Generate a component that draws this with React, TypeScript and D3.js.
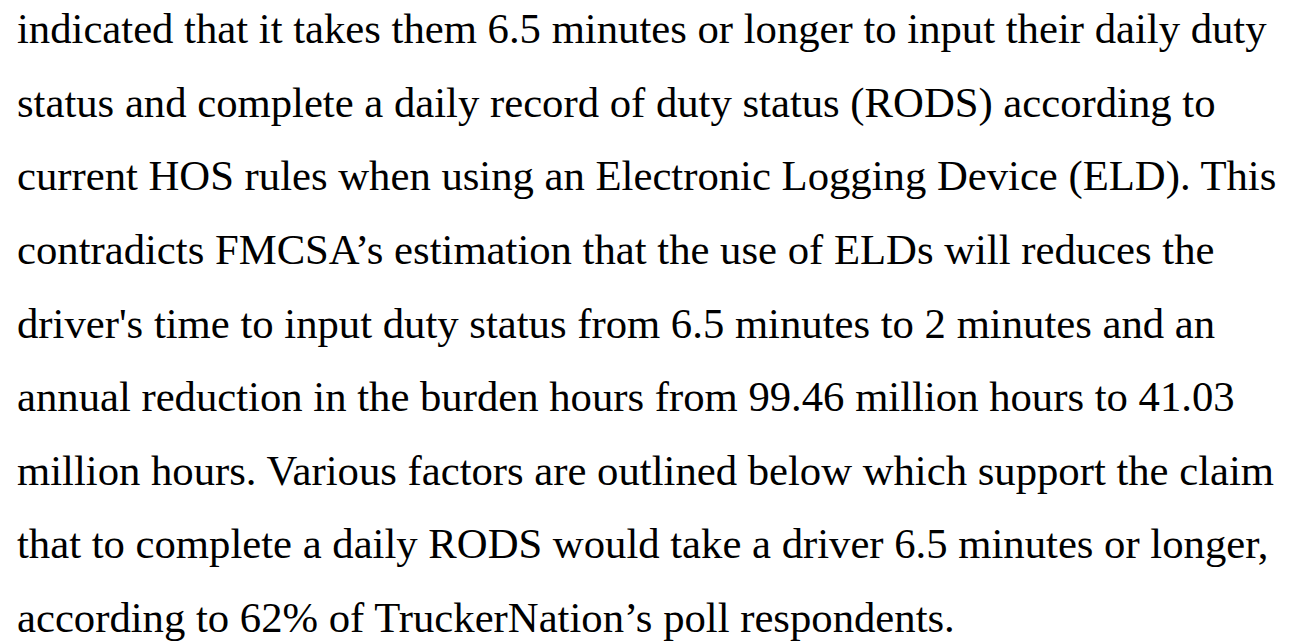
import React from "react";
import * as d3 from "d3";

const lines: string[] = [
  "indicated that it takes them 6.5 minutes or longer to input their daily duty",
  "status and complete a daily record of duty status (RODS) according to",
  "current HOS rules when using an Electronic Logging Device (ELD). This",
  "contradicts FMCSA\u2019s estimation that the use of ELDs will reduces the",
  "driver's time to input duty status from 6.5 minutes to 2 minutes and an",
  "annual reduction in the burden hours from 99.46 million hours to 41.03",
  "million hours. Various factors are outlined below which support the claim",
  "that to complete a daily RODS would take a driver 6.5 minutes or longer,",
  "according to 62% of TruckerNation\u2019s poll respondents.",
];

const W = 1291;
const H = 643;

export default function App() {
  const y = d3.scaleLinear().domain([0, lines.length - 1]).range([43, 632]);
  return (
    <svg
      width={W}
      height={H}
      style={{ position: "absolute", left: 0, top: 0, background: "#fff" }}
    >
      <rect x={0} y={0} width={W} height={H} fill="#fff" />
      {lines.map((t, i) => (
        <text
          key={i}
          x={17}
          y={y(i)}
          fontFamily="'Liberation Serif', 'Times New Roman', serif"
          fontSize={42.7}
          fill="#000"
        >
          {t}
        </text>
      ))}
    </svg>
  );
}
